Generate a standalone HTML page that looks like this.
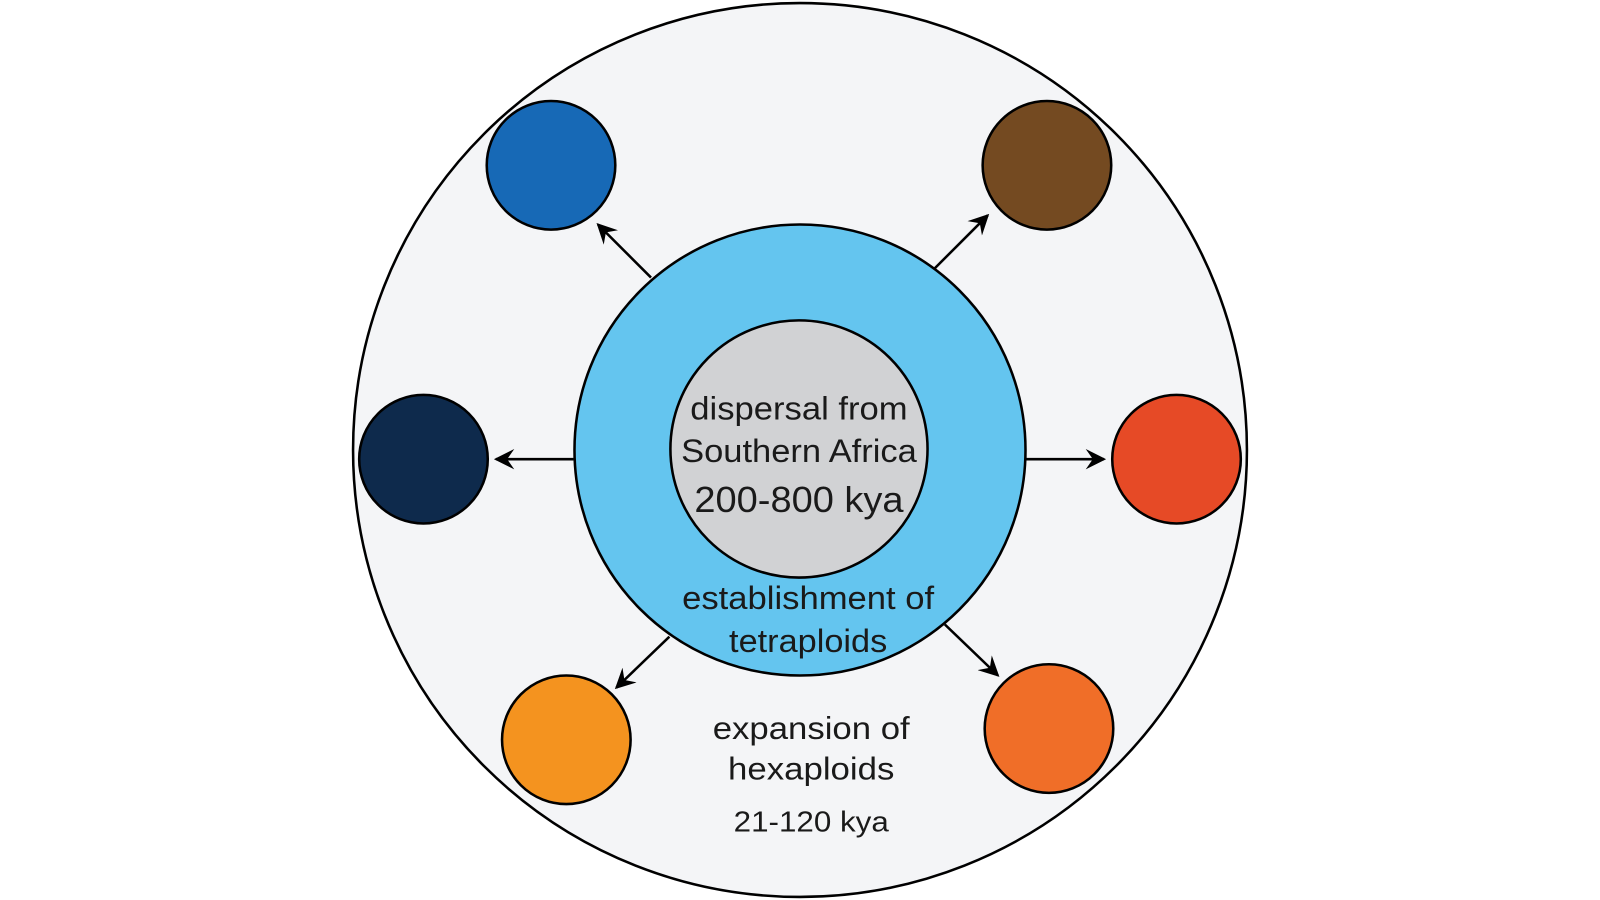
<!DOCTYPE html>
<html><head><meta charset="utf-8"><style>
html,body{margin:0;padding:0;background:#fff;}
svg{display:block;}
text{font-family:"Liberation Sans",sans-serif;fill:#1a1a1a;text-anchor:middle;}
</style></head><body>
<svg width="1600" height="900" viewBox="0 0 1600 900">
<defs>
<marker id="ah" viewBox="0 0 10 10" refX="9" refY="5" markerWidth="20" markerHeight="20" orient="auto" markerUnits="userSpaceOnUse">
<path d="M0,0 L10,5 L0,10 L3.5,5 Z" fill="#000"/>
</marker>
</defs>
<g transform="scale(1.0204)">
<circle cx="784" cy="441" r="438" fill="#f4f5f7" stroke="#000" stroke-width="2.5"/>
<g stroke="#000" stroke-width="2.5" fill="none">
<line x1="638" y1="272" x2="586" y2="220" marker-end="url(#ah)"/>
<line x1="916" y1="263" x2="968" y2="211" marker-end="url(#ah)"/>
<line x1="562" y1="450" x2="486" y2="450" marker-end="url(#ah)"/>
<line x1="1005" y1="450" x2="1082" y2="450" marker-end="url(#ah)"/>
<line x1="656" y1="624" x2="604" y2="674" marker-end="url(#ah)"/>
<line x1="926" y1="612" x2="978" y2="662" marker-end="url(#ah)"/>
</g>
<circle cx="784" cy="441" r="221" fill="#64c5ef" stroke="#000" stroke-width="2.5"/>
<circle cx="783" cy="440" r="126" fill="#d1d2d4" stroke="#000" stroke-width="2.5"/>
<g stroke="#000" stroke-width="2.5">
<circle cx="540" cy="162" r="63" fill="#1769b6"/>
<circle cx="1026" cy="162" r="63" fill="#744a21"/>
<circle cx="415" cy="450" r="63" fill="#0e2a4c"/>
<circle cx="1153" cy="450" r="63" fill="#e64a26"/>
<circle cx="555" cy="725" r="63" fill="#f4931f"/>
<circle cx="1028" cy="714" r="63" fill="#f06e28"/>
</g>
<text x="783" y="411" font-size="32" textLength="213" lengthAdjust="spacingAndGlyphs">dispersal from</text>
<text x="783" y="453" font-size="32" textLength="231" lengthAdjust="spacingAndGlyphs">Southern Africa</text>
<text x="783" y="502" font-size="35" textLength="205" lengthAdjust="spacingAndGlyphs">200-800 kya</text>
<text x="792" y="597" font-size="32" textLength="247" lengthAdjust="spacingAndGlyphs">establishment of</text>
<text x="792" y="639" font-size="32" textLength="155" lengthAdjust="spacingAndGlyphs">tetraploids</text>
<text x="795" y="724" font-size="31" textLength="193" lengthAdjust="spacingAndGlyphs">expansion of</text>
<text x="795" y="764" font-size="31" textLength="163" lengthAdjust="spacingAndGlyphs">hexaploids</text>
<text x="795" y="815" font-size="28" textLength="152" lengthAdjust="spacingAndGlyphs">21-120 kya</text>
</g>
</svg>
</body></html>
